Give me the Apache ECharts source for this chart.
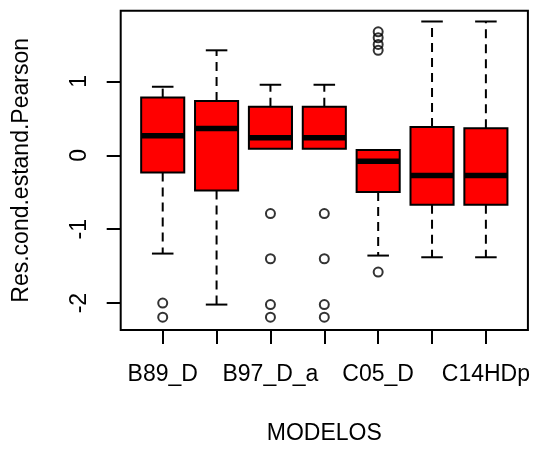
<!DOCTYPE html>
<html>
<head>
<meta charset="utf-8">
<script src="https://cdn.jsdelivr.net/npm/echarts@6/dist/echarts.min.js"></script>
<style>html,body{margin:0;padding:0;background:#fff;}#c{width:533px;height:450px;}</style>
</head>
<body>
<div id="c"></div>
<script>
// Categories (only every other label is visible in the reference)
const categories = ['B89_D', 'B97_D', 'B97_D_a', 'B97_D_b', 'C05_D', 'C14HD', 'C14HDp'];
// Box statistics per category
const lowerWhisker = [-1.33, -2.02, 0.089, 0.089, -1.357, -1.38, -1.38];
const q1Values     = [-0.234, -0.476, 0.089, 0.089, -0.497, -0.668, -0.668];
const medianValues = [0.263, 0.363, 0.236, 0.236, -0.081, -0.274, -0.274];
const q3Values     = [0.78, 0.733, 0.658, 0.658, 0.071, 0.384, 0.367];
const upperWhisker = [0.927, 1.42, 0.954, 0.954, 0.071, 1.81, 1.81];
// Outliers per category
const outliers = [
  [-2.0, -2.19],
  [],
  [-0.788, -1.40, -2.02, -2.19],
  [-0.788, -1.40, -2.02, -2.19],
  [1.67, 1.59, 1.50, 1.42, -1.58],
  [],
  []
];
const yTicks = [-2, -1, 0, 1];
const xTickPositions = [1, 2, 3, 4, 5, 6, 7];
const xLabelPositions = [1, 3, 5, 7];

const boxData = categories.map((c, i) => [i + 1, lowerWhisker[i], q1Values[i], medianValues[i], q3Values[i], upperWhisker[i]]);
const outlierData = [];
outliers.forEach((arr, i) => arr.forEach(v => outlierData.push([i + 1, v])));

const font = '"Liberation Sans", Arial, sans-serif';
const chart = echarts.init(document.getElementById('c'), null, {renderer: 'canvas'});

function renderBox(params, api) {
  const x = api.value(0);
  const lo = api.value(1), q1 = api.value(2), med = api.value(3), q3 = api.value(4), hi = api.value(5);
  const w = api.size([0.8, 0])[0];
  const pLo = api.coord([x, lo]), pQ1 = api.coord([x, q1]), pMed = api.coord([x, med]);
  const pQ3 = api.coord([x, q3]), pHi = api.coord([x, hi]);
  const cx = pMed[0];
  const dashStyle = {stroke: '#000', lineWidth: 2, lineDash: [9, 6], fill: null};
  const solid = {stroke: '#000', lineWidth: 2, fill: null};
  const children = [];
  if (hi - q3 > 0.01) {
    children.push({type: 'line', shape: {x1: cx, y1: pQ3[1], x2: cx, y2: pHi[1]}, style: dashStyle});
    children.push({type: 'line', shape: {x1: cx - w / 4, y1: pHi[1], x2: cx + w / 4, y2: pHi[1]}, style: solid});
  }
  if (q1 - lo > 0.01) {
    children.push({type: 'line', shape: {x1: cx, y1: pQ1[1], x2: cx, y2: pLo[1]}, style: dashStyle});
    children.push({type: 'line', shape: {x1: cx - w / 4, y1: pLo[1], x2: cx + w / 4, y2: pLo[1]}, style: solid});
  }
  children.push({type: 'rect', shape: {x: cx - w / 2, y: pQ3[1], width: w, height: pQ1[1] - pQ3[1]},
    style: {fill: '#ff0000', stroke: '#000', lineWidth: 2}});
  children.push({type: 'line', shape: {x1: cx - w / 2, y1: pMed[1], x2: cx + w / 2, y2: pMed[1]},
    style: {stroke: '#000', lineWidth: 5.5, fill: null}});
  return {type: 'group', children};
}

chart.setOption({
  animation: false,
  backgroundColor: '#fff',
  grid: {left: 120.7, right: 3, top: 10.7, bottom: 117.7, show: true, borderColor: '#000', borderWidth: 2, backgroundColor: 'transparent'},
  xAxis: {
    type: 'value', min: 0.22, max: 7.78, position: 'bottom',
    name: 'MODELOS', nameLocation: 'middle', nameGap: 92,
    nameTextStyle: {fontFamily: font, fontSize: 23, color: '#000'},
    axisLine: {show: false, onZero: false},
    axisTick: {show: true, customValues: xTickPositions, length: 14, lineStyle: {color: '#000', width: 2}},
    axisLabel: {customValues: xLabelPositions, formatter: v => categories[Math.round(v) - 1], margin: 33,
      fontFamily: font, fontSize: 23, color: '#000'},
    splitLine: {show: false}
  },
  yAxis: {
    type: 'value', min: -2.364, max: 1.956, position: 'left',
    name: 'Res.cond.estand.Pearson', nameLocation: 'middle', nameGap: 88,
    nameTextStyle: {fontFamily: font, fontSize: 23, color: '#000'},
    axisLine: {show: false, onZero: false},
    axisTick: {show: true, customValues: yTicks, length: 14, lineStyle: {color: '#000', width: 2}},
    axisLabel: {customValues: yTicks, rotate: 90, margin: 30, fontFamily: font, fontSize: 23, color: '#000'},
    splitLine: {show: false}
  },
  series: [
    {type: 'custom', renderItem: renderBox, data: boxData, encode: {x: 0, y: [1, 2, 3, 4, 5]}, z: 2},
    {type: 'scatter', data: outlierData, symbol: 'circle', symbolSize: 9,
      itemStyle: {color: 'rgba(0,0,0,0)', borderColor: '#000', borderWidth: 2}, z: 3}
  ]
});
</script>
</body>
</html>
